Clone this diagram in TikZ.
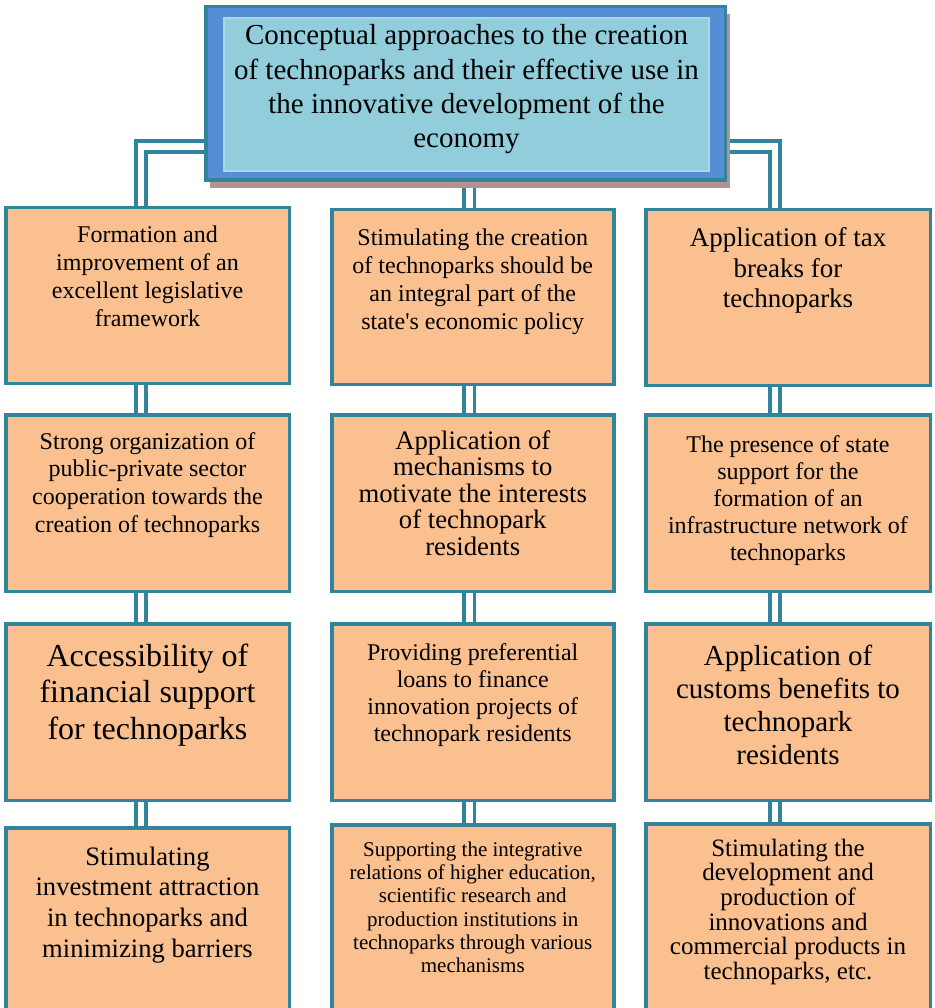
\documentclass[tikz,border=0pt]{standalone}
\usepackage{fontspec}
\setmainfont{Liberation Serif}
\usetikzlibrary{calc,shadows,backgrounds}

\definecolor{tealline}{HTML}{31849B}
\definecolor{cardfill}{HTML}{FAC090}
\definecolor{frameblue}{HTML}{558ED5}
\definecolor{paleblue}{HTML}{92CDDC}
\definecolor{paleedge}{HTML}{A9D9E6}
\definecolor{shadecol}{HTML}{B39292}

% centred block of lines: size, line skip, lines
\newcommand\blocklines[3]{{\fontsize{#1}{#2}\selectfont\begin{tabular}[t]{@{}c@{}}#3\end{tabular}}}

\tikzset{
  card/.style={draw=tealline, fill=cardfill, line width=3.5pt, inner sep=0pt},
  titlebox/.style={draw=tealline, fill=frameblue, line width=3.5pt, inner sep=0pt,
    drop shadow={shadow xshift=4.5pt, shadow yshift=-7.5pt, fill=shadecol, opacity=1}},
  txt/.style={anchor=base, inner sep=0pt, text=black},
  link/.style={draw=tealline, line width=3.8pt, double=white, double distance=6.5pt}
}

\begin{document}
\begin{tikzpicture}[x=1pt,y=-1pt]
\useasboundingbox (0,0) rectangle (934,1008);
\clip (0,0) rectangle (934,1008);

% title block
\node[titlebox, minimum width=519.5pt, minimum height=173.5pt] (top) at (465.5,93.5) {};
\filldraw[fill=paleblue, draw=paleedge, line width=1.2pt] (224,18) rectangle (709,171);
\node[txt] (toptext) at (466.5,45) {\blocklines{29}{34.3}{Conceptual approaches to the creation\\of technoparks and their effective use in\\the innovative development of the\\economy}};

% first row
\node[card, minimum width=283.5pt, minimum height=175.5pt] (L1) at (147.5,295.5) {};
\node[card, minimum width=282pt,   minimum height=174.5pt] (M1) at (472.75,297) {};
\node[card, minimum width=284.5pt, minimum height=175.5pt] (R1) at (788,297.5) {};
\node[txt] (L1t) at (147.5,243) {\blocklines{24}{27.7}{Formation and\\improvement of an\\excellent legislative\\framework}};
\node[txt] (M1t) at (472.75,245.5) {\blocklines{24}{28}{Stimulating the creation\\of technoparks should be\\an integral part of the\\state\textquotesingle s economic policy}};
\node[txt] (R1t) at (788,246) {\blocklines{27}{31}{Application of tax\\breaks for\\technoparks}};

% second row
\node[card, minimum width=283.5pt, minimum height=176.5pt] (L2) at (147.5,503) {};
\node[card, minimum width=282pt,   minimum height=176.5pt] (M2) at (472.75,503) {};
\node[card, minimum width=284.5pt, minimum height=176.5pt] (R2) at (788,503) {};
\node[txt] (L2t) at (147.5,449) {\blocklines{24}{27.7}{Strong organization of\\public-private sector\\cooperation towards the\\creation of technoparks}};
\node[txt] (M2t) at (472.75,449.5) {\blocklines{26.7}{26}{Application of\\mechanisms to\\motivate the interests\\of technopark\\residents}};
\node[txt] (R2t) at (788,452) {\blocklines{24}{27}{The presence of state\\support for the\\formation of an\\infrastructure network of\\technoparks}};

% third row
\node[card, minimum width=283.5pt, minimum height=176.5pt] (L3) at (147.5,712) {};
\node[card, minimum width=282pt,   minimum height=176.5pt] (M3) at (472.75,712) {};
\node[card, minimum width=284.5pt, minimum height=176.5pt] (R3) at (788,712) {};
\node[txt] (L3t) at (147.5,666) {\blocklines{32}{36.5}{Accessibility of\\financial support\\for technoparks}};
\node[txt] (M3t) at (472.75,660) {\blocklines{24}{27.3}{Providing preferential\\loans to finance\\innovation projects of\\technopark residents}};
\node[txt] (R3t) at (788,665) {\blocklines{29}{33}{Application of\\customs benefits to\\technopark\\residents}};

% fourth row (runs past the lower edge)
\node[card, minimum width=283.5pt, minimum height=200.5pt] (L4) at (147.5,928) {};
\node[card, minimum width=282pt,   minimum height=203.5pt] (M4) at (472.75,926.5) {};
\node[card, minimum width=284.5pt, minimum height=204.5pt] (R4) at (788,926) {};
\node[txt] (L4t) at (147.5,865) {\blocklines{26.6}{30.7}{Stimulating\\investment attraction\\in technoparks and\\minimizing barriers}};
\node[txt] (M4t) at (472.75,856.5) {\blocklines{21}{23.2}{Supporting the integrative\\relations of higher education,\\scientific research and\\production institutions in\\technoparks through various\\mechanisms}};
\node[txt] (R4t) at (788,856) {\blocklines{25}{24.2}{Stimulating the\\development and\\production of\\innovations and\\commercial products in\\technoparks, etc.}};

% double-line connectors behind the boxes
\begin{scope}[on background layer]
  \coordinate (lc) at ($(L1.north)+(-6.5,0)$);
  \coordinate (mc) at ($(M1.north)+(-3.5,0)$);
  \coordinate (rc) at ($(R1.north)+(-13,0)$);
  \draw[link] ($(top.west)+(0,53)$) -| (lc);
  \draw[link] (top.south -| mc) -- (mc);
  \draw[link] ($(top.east)+(0,53)$) -| (rc);
  \foreach \a/\b in {L1/L2,L2/L3,L3/L4}
    \draw[link] ($(\a.south)+(-6.5,0)$) -- ($(\b.north)+(-6.5,0)$);
  \foreach \a/\b in {M1/M2,M2/M3,M3/M4}
    \draw[link] ($(\a.south)+(-3.5,0)$) -- ($(\b.north)+(-3.5,0)$);
  \foreach \a/\b in {R1/R2,R2/R3,R3/R4}
    \draw[link] ($(\a.south)+(-13,0)$) -- ($(\b.north)+(-13,0)$);
\end{scope}
\end{tikzpicture}
\end{document}
